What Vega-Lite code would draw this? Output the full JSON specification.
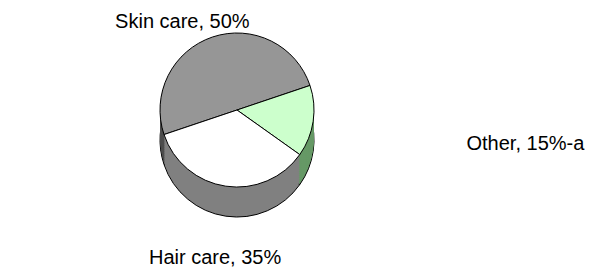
{
  "$schema": "https://vega.github.io/schema/vega-lite/v6.json",
  "autosize": {"type": "none"},
  "width": 474,
  "height": 220,
  "padding": {"left": 0, "top": 0, "right": 118, "bottom": 50},
  "background": "white",
  "config": {"view": {"stroke": null}},
  "data": {"values": [
    {"category": "Skin care", "value": 50, "label": "Skin care, 50%"},
    {"category": "Other", "value": 15, "label": "Other, 15%-a"},
    {"category": "Hair care", "value": 35, "label": "Hair care, 35%"}
  ]},
  "encoding": {
    "theta": {"field": "value", "type": "quantitative", "stack": true, "scale": {"range": [4.388, 10.671]}},
    "order": {"field": "category", "type": "ordinal", "sort": "descending"}
  },
  "layer": [
    {"mark": {"type": "arc", "radius": 77, "yOffset": 30, "stroke": "#000000", "strokeWidth": 1},
     "encoding": {"fill": {"field": "category", "type": "nominal", "scale": {"domain": ["Skin care", "Other", "Hair care"], "range": ["#4d4d4d", "#669966", "#808080"]}, "legend": null}}},
    {"mark": {"type": "arc", "radius": 77, "yOffset": 28}, "encoding": {"fill": {"field": "category", "type": "nominal", "legend": null}}},
    {"mark": {"type": "arc", "radius": 77, "yOffset": 26}, "encoding": {"fill": {"field": "category", "type": "nominal", "legend": null}}},
    {"mark": {"type": "arc", "radius": 77, "yOffset": 24}, "encoding": {"fill": {"field": "category", "type": "nominal", "legend": null}}},
    {"mark": {"type": "arc", "radius": 77, "yOffset": 22}, "encoding": {"fill": {"field": "category", "type": "nominal", "legend": null}}},
    {"mark": {"type": "arc", "radius": 77, "yOffset": 20}, "encoding": {"fill": {"field": "category", "type": "nominal", "legend": null}}},
    {"mark": {"type": "arc", "radius": 77, "yOffset": 18}, "encoding": {"fill": {"field": "category", "type": "nominal", "legend": null}}},
    {"mark": {"type": "arc", "radius": 77, "yOffset": 16}, "encoding": {"fill": {"field": "category", "type": "nominal", "legend": null}}},
    {"mark": {"type": "arc", "radius": 77, "yOffset": 14}, "encoding": {"fill": {"field": "category", "type": "nominal", "legend": null}}},
    {"mark": {"type": "arc", "radius": 77, "yOffset": 12}, "encoding": {"fill": {"field": "category", "type": "nominal", "legend": null}}},
    {"mark": {"type": "arc", "radius": 77, "yOffset": 10}, "encoding": {"fill": {"field": "category", "type": "nominal", "legend": null}}},
    {"mark": {"type": "arc", "radius": 77, "yOffset": 8}, "encoding": {"fill": {"field": "category", "type": "nominal", "legend": null}}},
    {"mark": {"type": "arc", "radius": 77, "yOffset": 6}, "encoding": {"fill": {"field": "category", "type": "nominal", "legend": null}}},
    {"mark": {"type": "arc", "radius": 77, "yOffset": 4}, "encoding": {"fill": {"field": "category", "type": "nominal", "legend": null}}},
    {"mark": {"type": "arc", "radius": 77, "yOffset": 2}, "encoding": {"fill": {"field": "category", "type": "nominal", "legend": null}}},
    {"mark": {"type": "arc", "radius": 77, "stroke": "#000000", "strokeWidth": 1},
     "encoding": {"color": {"field": "category", "type": "nominal", "scale": {"domain": ["Skin care", "Other", "Hair care"], "range": ["#969696", "#ccffcc", "#ffffff"]}, "legend": null}}},
    {"mark": {"type": "text", "radius": 93, "dx": -25, "fontSize": 20, "font": "Liberation Sans", "color": "#000000"},
     "encoding": {"text": {"condition": {"test": "datum.category === 'Skin care'", "field": "label"}, "value": ""}}},
    {"mark": {"type": "text", "radius": 150, "fontSize": 20, "font": "Liberation Sans", "color": "#000000"},
     "encoding": {"text": {"condition": {"test": "datum.category === 'Hair care'", "field": "label"}, "value": ""}}},
    {"mark": {"type": "text", "radius": 232, "align": "left", "fontSize": 20, "font": "Liberation Sans", "color": "#000000"},
     "encoding": {"text": {"condition": {"test": "datum.category === 'Other'", "field": "label"}, "value": ""}}}
  ]
}
